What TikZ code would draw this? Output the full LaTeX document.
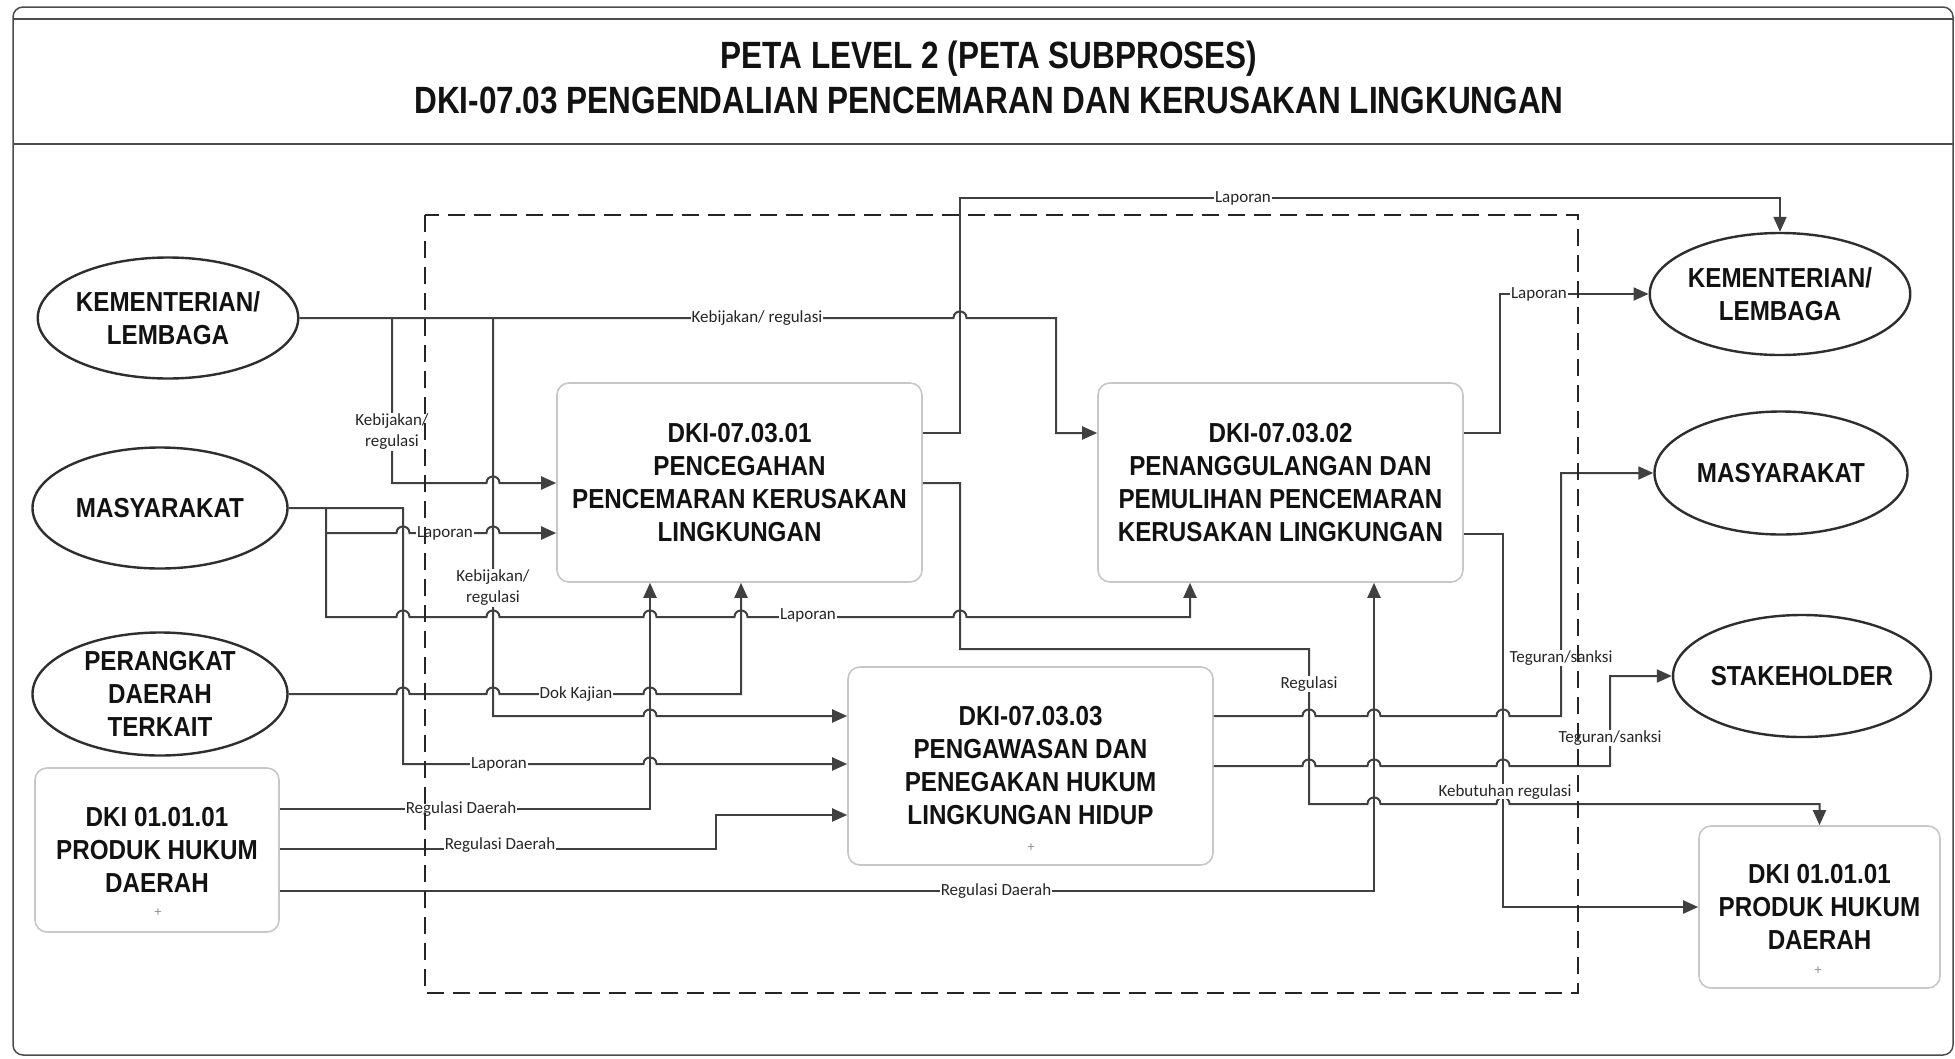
\documentclass[tikz,border=0pt]{standalone}
\usepackage{fontspec}
\usetikzlibrary{arrows.meta,shapes.geometric}
\newfontfamily\ttlfont{Liberation Sans}[FakeStretch=0.83]
\newfontfamily\boxfont{Liberation Sans}[FakeStretch=0.88]
\newfontfamily\lblfont{Carlito}
\newcommand\hp[2]{-- ({#1-6.5},#2) .. controls ({#1-6.5},{#2-8.7}) and ({#1+6.5},{#2-8.7}) .. ({#1+6.5},#2)}
\tikzset{
  cn/.style={draw=black!75, line width=2pt},
  ar/.style={cn, -{Triangle[length=15pt,width=13pt]}},
  bigtext/.style={font=\boxfont\bfseries\fontsize{27.5}{33}\selectfont, text=black!93, align=center},
  ell/.style={ellipse, draw=black!82, line width=2.4pt, minimum width=255pt, minimum height=121pt, inner sep=0pt, bigtext},
  proc/.style={rectangle, rounded corners=12pt, draw=black!22, line width=1.6pt, inner sep=0pt, bigtext},
  lbl/.style={fill=white, inner sep=1pt, font=\lblfont\fontsize{17}{21}\selectfont, text=black!85, align=center},
  smallmark/.style={font=\lblfont\fontsize{14}{14}\selectfont, text=black!45, inner sep=0pt},
  ttl/.style={font=\ttlfont\bfseries\fontsize{38}{41}\selectfont, text=black!93},
  frame/.style={draw=black!70, line width=1.5pt},
  dbox/.style={draw=black!85, line width=1.8pt, dash pattern=on 17pt off 9pt}
}
\begin{document}
\begin{tikzpicture}[x=1pt,y=-1pt]
\useasboundingbox (0,0) rectangle (1955,1058);
% frame and title
\draw[frame, rounded corners=10pt] (13,7) rectangle (1953,1055);
\draw[frame] (13,19) -- (1953,19);
\draw[frame] (13,144) -- (1953,144);
\node[ttl] (T1) at (989,59) {PETA LEVEL 2 (PETA SUBPROSES)};
\node[ttl] (T2) at (989,100) {DKI-07.03 PENGENDALIAN PENCEMARAN DAN KERUSAKAN LINGKUNGAN};
% nodes
\node[ell] (KLa) at (168,318) {KEMENTERIAN/\\LEMBAGA};
\node[ell] (MSa) at (160,508) {MASYARAKAT};
\node[ell, minimum height=123pt] (PDT) at (160,694) {PERANGKAT\\DAERAH\\TERKAIT};
\node[proc, minimum width=244pt, minimum height=164pt] (PHa) at (157,850) {DKI 01.01.01\\PRODUK HUKUM\\DAERAH};
\node[proc, minimum width=365pt, minimum height=199pt] (P1) at (739.5,482.5) {DKI-07.03.01\\PENCEGAHAN\\PENCEMARAN KERUSAKAN\\LINGKUNGAN};
\node[proc, minimum width=365pt, minimum height=199pt] (P2) at (1280.5,482.5) {DKI-07.03.02\\PENANGGULANGAN DAN\\PEMULIHAN PENCEMARAN\\KERUSAKAN LINGKUNGAN};
\node[proc, minimum width=365pt, minimum height=198pt] (P3) at (1030.5,766) {DKI-07.03.03\\PENGAWASAN DAN\\PENEGAKAN HUKUM\\LINGKUNGAN HIDUP};
\node[ell, minimum width=253pt, minimum height=122pt] (KLb) at (1780,294) {KEMENTERIAN/\\LEMBAGA};
\node[ell, minimum width=253pt, minimum height=123pt] (MSb) at (1781,473) {MASYARAKAT};
\node[ell, minimum width=253pt, minimum height=122pt] (STK) at (1802,676) {STAKEHOLDER};
\node[proc, minimum width=241pt, minimum height=162pt] (PHb) at (1819.5,907) {DKI 01.01.01\\PRODUK HUKUM\\DAERAH};
\node[smallmark] (m1) at (158,913) {+};
\node[smallmark] (m2) at (1031,848) {+};
\node[smallmark] (m3) at (1818,971) {+};
% junction coordinates
\coordinate (jK1) at (392,318);
\coordinate (jK2) at (493,318);
\coordinate (jM1) at (326,508);
\coordinate (jM2) at (326,533);
% connectors from KEMENTERIAN (left)
\draw[ar] (KLa.east) \hp{960}{318} -- (1056,318) -- (1056,433) -- (P2.west |- 0,433);
\draw[ar] (jK1) -- (392,483) \hp{493}{483} -- (P1.west |- 0,483);
\draw[ar] (jK2) -- (493,716) \hp{650}{716} -- (P3.west |- 0,716);
% connectors from MASYARAKAT (left)
\draw[ar] (MSa.east) -- (403,508) -- (403,764) \hp{650}{764} -- (P3.west |- 0,764);
\draw[ar] (jM1) -- (326,617) \hp{403}{617} \hp{493}{617} \hp{650}{617} \hp{741}{617} \hp{960}{617} -- (1190,617) -- (P2.south -| 1190,0);
\draw[ar] (jM2) \hp{403}{533} \hp{493}{533} -- (P1.west |- 0,533);
% perangkat daerah
\draw[ar] (PDT.east) \hp{403}{694} \hp{493}{694} \hp{650}{694} -- (741,694) -- (P1.south -| 741,0);
% produk hukum (left)
\draw[ar] (PHa.east |- 0,809) -- (650,809) -- (P1.south -| 650,0);
\draw[ar] (PHa.east |- 0,849) -- (716,849) -- (716,815) -- (P3.west |- 0,815);
\draw[ar] (PHa.east |- 0,891) -- (1374,891) -- (P2.south -| 1374,0);
% outputs of P1
\draw[ar] (P1.east |- 0,433) -- (960,433) -- (960,198) -- (1780,198) -- (KLb.north);
\draw[ar] (P1.east |- 0,483) -- (960,483) -- (960,649) -- (1309,649) -- (1309,804) \hp{1374}{804} \hp{1503}{804} -- (1819.5,804) -- (PHb.north);
% outputs of P2
\draw[ar] (P2.east |- 0,433) -- (1500,433) -- (1500,294) -- (KLb.west);
\draw[ar] (P2.east |- 0,534) -- (1503,534) -- (1503,907) -- (PHb.west);
% outputs of P3
\draw[ar] (P3.east |- 0,716) \hp{1309}{716} \hp{1374}{716} \hp{1503}{716} -- (1561,716) -- (1561,473) -- (MSb.west);
\draw[ar] (P3.east) \hp{1309}{766} \hp{1374}{766} \hp{1503}{766} -- (1610,766) -- (1610,676) -- (STK.west);
% labels
\node[lbl] (l1) at (757,318) {Kebijakan/ regulasi};
\node[lbl] (l2) at (392,432) {Kebijakan/\\regulasi};
\node[lbl] (l3) at (445,533) {Laporan};
\node[lbl] (l4) at (493,588) {Kebijakan/\\regulasi};
\node[lbl] (l5) at (808,615) {Laporan};
\node[lbl] (l6) at (576,694) {Dok Kajian};
\node[lbl] (l7) at (499,764) {Laporan};
\node[lbl] (l8) at (461,809) {Regulasi Daerah};
\node[lbl, anchor=base] (l9) at (500,849) {Regulasi Daerah};
\node[lbl] (l10) at (996,891) {Regulasi Daerah};
\node[lbl] (l11) at (1243,198) {Laporan};
\node[lbl] (l12) at (1309,684) {Regulasi};
\node[lbl] (l13) at (1539,294) {Laporan};
\node[lbl] (l14) at (1561,658) {Teguran/sanksi};
\node[lbl] (l15) at (1610,738) {Teguran/sanksi};
\node[lbl, anchor=base, inner sep=0.5pt] (l16) at (1505,796) {Kebutuhan regulasi};
% dashed boundary
\draw[dbox] (425,215) rectangle (1578,993);
\end{tikzpicture}
\end{document}
